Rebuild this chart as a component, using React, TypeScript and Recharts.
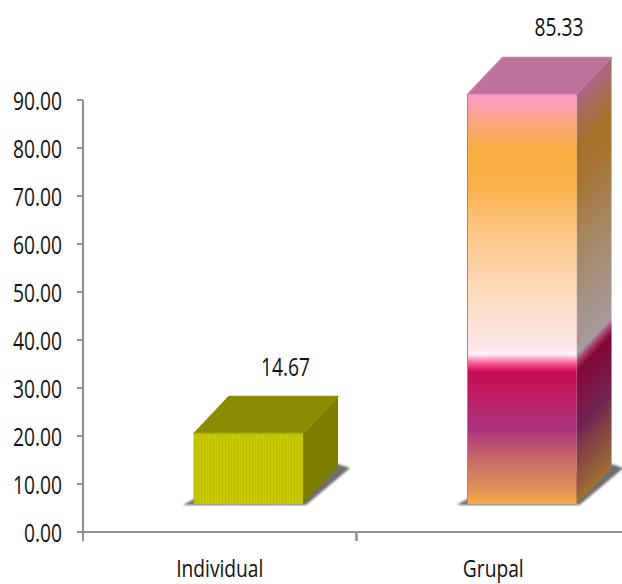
import { Bar, BarChart, LabelList, XAxis, YAxis } from "recharts";

const categories = ["Individual", "Grupal"];
const shares = [14.67, 85.33];
const yTicks = [0, 10, 20, 30, 40, 50, 60, 70, 80, 90];

const data = categories.map((name, i) => ({ name, value: shares[i] }));

// oblique projection of the boxes: the front wall sits up and right of the axis
const FLOOR_X = 29;
const FLOOR_Y = 28;
const DEPTH_X = 35;
const DEPTH_Y = 37;

const AXIS_COLOR = "#8f8f8f";
const FONT = "'Open Sans', sans-serif";
const PLOT_WIDTH = 547;

const grupalStops: [number, string][] = [
  [0, "#ff9cc8"],
  [0.025, "#ff9fb2"],
  [0.07, "#fca77c"],
  [0.135, "#faae40"],
  [0.22, "#fbb04a"],
  [0.355, "#fcc98d"],
  [0.5, "#fcdcc2"],
  [0.6, "#fde4e4"],
  [0.625, "#ffeaf2"],
  [0.635, "#fff0f6"],
  [0.655, "#fb5c9c"],
  [0.677, "#c90c50"],
  [0.745, "#bc2068"],
  [0.82, "#ab3580"],
  [0.892, "#c96a64"],
  [0.966, "#e09458"],
  [1, "#fbaa45"],
];

function NarrowText({ x, y, anchor, size = 26, stretch = 0.74, children }: any) {
  return (
    <text
      transform={`translate(${x},${y}) scale(${stretch},1)`}
      textAnchor={anchor}
      fontFamily={FONT}
      fontSize={size}
      fill="#111"
    >
      {children}
    </text>
  );
}

const ValueTick = ({ y, payload }: any) => (
  <NarrowText x={62} y={y + 9.5} anchor="end">
    {payload.value.toFixed(2)}
  </NarrowText>
);

// category ticks mark the band edges, the text stays on the band centre
const CategoryTick = ({ x, payload }: any) => {
  const half = PLOT_WIDTH / categories.length / 2;
  return (
    <g>
      <line x1={x - half} y1={532} x2={x - half} y2={541} stroke={AXIS_COLOR} strokeWidth={2} />
      <line x1={x + half} y1={532} x2={x + half} y2={541} stroke={AXIS_COLOR} strokeWidth={2} />
      <NarrowText x={x} y={576.5} anchor="middle" size={24} stretch={0.8}>
        {payload.value}
      </NarrowText>
    </g>
  );
};

const ValueLabel = ({ x, y, width, value }: any) => (
  <NarrowText x={x + width / 2 + FLOOR_X + 37} y={y - FLOOR_Y - 58} anchor="middle">
    {value.toFixed(2)}
  </NarrowText>
);

function Box3D({ x, y, width, height, payload }: any) {
  const left = x + FLOOR_X;
  const right = left + width;
  const top = y - FLOOR_Y;
  const bottom = top + height;
  const isGrupal = payload.name === "Grupal";
  const id = isGrupal ? "grupal" : "individual";
  const k = -DEPTH_Y / DEPTH_X;

  const backRight = right + DEPTH_X;
  const front = `${left},${top} ${right},${top} ${right},${bottom} ${left},${bottom}`;
  const side = `${right},${top} ${backRight},${top - DEPTH_Y} ${backRight},${bottom - DEPTH_Y} ${right},${bottom}`;
  const lid = `${left},${top} ${left + DEPTH_X},${top - DEPTH_Y} ${backRight},${top - DEPTH_Y} ${right},${top}`;
  const shadow = `${left - 11},${bottom + 1} ${right + 3},${bottom + 1} ${backRight + 12},${bottom - DEPTH_Y + 1} ${backRight},${bottom - DEPTH_Y - 3} ${left},${bottom - 5}`;

  return (
    <g>
      <defs>
        <filter id={`${id}-blur`} x="-10%" y="-10%" width="120%" height="120%">
          <feGaussianBlur stdDeviation="1" />
        </filter>
        {isGrupal ? (
          <>
            <linearGradient id="grupal-front" x1="0" y1="0" x2="0" y2="1">
              {grupalStops.map(([offset, color]) => (
                <stop key={offset} offset={offset} stopColor={color} />
              ))}
            </linearGradient>
            {/* same bands, sheared so they climb along the side wall */}
            <linearGradient
              id="grupal-side"
              gradientUnits="userSpaceOnUse"
              x1={right}
              y1={top}
              x2={right}
              y2={bottom}
              gradientTransform={`matrix(1 ${k} 0 1 0 ${-k * right})`}
            >
              {grupalStops.map(([offset, color]) => (
                <stop key={offset} offset={offset} stopColor={color} />
              ))}
            </linearGradient>
          </>
        ) : (
          <pattern id="individual-front" patternUnits="userSpaceOnUse" width="3" height="3">
            <rect width="3" height="3" fill="#c9c900" />
            <rect width="1" height="3" fill="#bdbd00" />
          </pattern>
        )}
      </defs>

      <polygon points={shadow} fill="#6f6f6f" filter={`url(#${id}-blur)`} />

      <polygon
        points={lid}
        fill={isGrupal ? "#bf7299" : "#8b8b00"}
        stroke={isGrupal ? "#c97fa4" : "#909000"}
        strokeWidth={1.5}
        strokeLinejoin="round"
      />
      {isGrupal ? (
        <>
          <polygon points={side} fill="url(#grupal-side)" />
          <polygon points={side} fill="#000" fillOpacity={0.34} />
        </>
      ) : (
        <polygon points={side} fill="#7d7d00" />
      )}
      <polygon points={front} fill={isGrupal ? "url(#grupal-front)" : "url(#individual-front)"} />
      {/* bevelled edges */}
      <line x1={left} y1={top} x2={right} y2={top} stroke={isGrupal ? "#e88ab8" : "#b4b400"} strokeWidth={1.5} />
      <line x1={left} y1={top} x2={left} y2={bottom} stroke={isGrupal ? "#a08c78" : "#b8b820"} strokeWidth={1} />
      <line x1={right} y1={top} x2={backRight} y2={top - DEPTH_Y} stroke={isGrupal ? "#c47f9c" : "#9a9a00"} strokeWidth={1} />
    </g>
  );
}

export default function App() {
  return (
    <div style={{ position: "absolute", left: 0, top: 0, width: 622, height: 584, overflow: "hidden" }}>
      <BarChart
        width={640}
        height={584}
        data={data}
        margin={{ top: 100, right: 10, bottom: 0, left: 0 }}
      >
        <XAxis
          dataKey="name"
          height={52}
          interval={0}
          tick={<CategoryTick />}
          tickLine={false}
          axisLine={{ stroke: AXIS_COLOR, strokeWidth: 2 }}
        />
        <YAxis
          width={83}
          domain={[0, 90]}
          ticks={yTicks}
          interval={0}
          tick={<ValueTick />}
          tickLine={{ stroke: AXIS_COLOR, strokeWidth: 2 }}
          axisLine={{ stroke: AXIS_COLOR, strokeWidth: 2 }}
          tickSize={6}
        />
        <Bar dataKey="value" barSize={109} shape={<Box3D />} isAnimationActive={false}>
          <LabelList dataKey="value" content={<ValueLabel />} />
        </Bar>
      </BarChart>
    </div>
  );
}
